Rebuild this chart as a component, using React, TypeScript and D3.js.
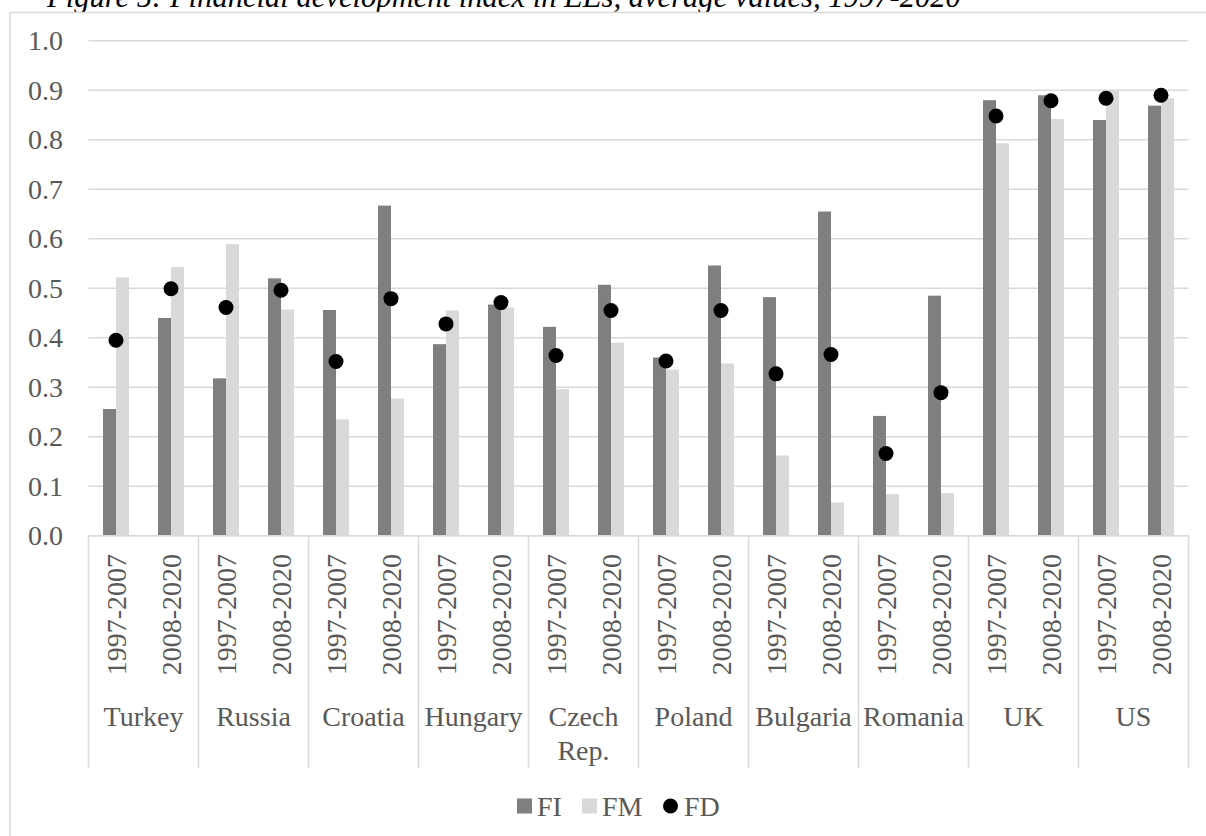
import React from "react";
import * as d3 from "d3";

const countries = ["Turkey", "Russia", "Croatia", "Hungary", "Czech Rep.", "Poland", "Bulgaria", "Romania", "UK", "US"];
const periods = ["1997-2007", "2008-2020"];
const FI = [0.256, 0.44, 0.318, 0.52, 0.456, 0.667, 0.387, 0.467, 0.422, 0.507, 0.36, 0.546, 0.482, 0.655, 0.242, 0.485, 0.88, 0.89, 0.84, 0.869];
const FM = [0.522, 0.543, 0.589, 0.457, 0.235, 0.277, 0.455, 0.461, 0.296, 0.39, 0.336, 0.348, 0.162, 0.067, 0.084, 0.086, 0.793, 0.842, 0.901, 0.884];
const FD = [0.395, 0.499, 0.461, 0.496, 0.352, 0.479, 0.428, 0.471, 0.364, 0.455, 0.353, 0.455, 0.327, 0.366, 0.166, 0.289, 0.848, 0.879, 0.884, 0.89];
const yTicks = [0, 0.1, 0.2, 0.3, 0.4, 0.5, 0.6, 0.7, 0.8, 0.9, 1.0];
const title = "Figure 5: Financial development index in EEs, average values, 1997-2020";
const legendItems = ["FI", "FM", "FD"];

const FONT = "'Liberation Serif', 'Times New Roman', serif";
const C_FI = "#7f7f7f";
const C_FM = "#d9d9d9";
const C_GRID = "#d9d9d9";
const C_TEXT = "#595959";

export default function App() {
  const W = 1206, H = 836;
  const left = 88.5, right = 1188.5, top = 40.8, bottom = 535.7;
  const fs = 28;

  const x0 = d3.scaleBand<string>().domain(countries).range([left, right]).padding(0);
  const x1 = d3.scaleBand<string>().domain(periods).range([0, x0.bandwidth()]).padding(0);
  const y = d3.scaleLinear().domain([0, 1]).range([bottom, top]);
  const fmt = d3.format(".1f");
  const barW = 13;

  const rows = countries.flatMap((c, ci) =>
    periods.map((p, pi) => {
      const i = ci * periods.length + pi;
      return { c, p, fi: FI[i], fm: FM[i], fd: FD[i], cx: (x0(c) as number) + (x1(p) as number) + x1.bandwidth() / 2 };
    })
  );

  const sepBottom = 768;
  const legendY = 806;

  return (
    <svg width={W} height={H} style={{ position: "absolute", left: 0, top: 0, background: "#fff" }} fontFamily={FONT}>
      <rect x={0} y={0} width={W} height={H} fill="#fff" />
      <text x={47} y={7} fontSize={30.6} fontStyle="italic" fill="#000">{title}</text>
      <rect x={10} y={12.5} width={W + 20} height={H + 20} fill="#fff" stroke={C_GRID} strokeWidth={1.5} />

      {yTicks.map((t) => (
        <g key={t}>
          <line x1={left} x2={right} y1={y(t)} y2={y(t)} stroke={C_GRID} strokeWidth={1.5} />
          <text x={63} y={y(t)} textAnchor="end" dominantBaseline="central" fontSize={fs} fill={C_TEXT}>{fmt(t)}</text>
        </g>
      ))}

      {rows.map((r, i) => (
        <g key={"b" + i}>
          <rect x={r.cx - barW} y={y(r.fi)} width={barW} height={bottom - y(r.fi)} fill={C_FI} />
          <rect x={r.cx} y={y(r.fm)} width={barW} height={bottom - y(r.fm)} fill={C_FM} />
        </g>
      ))}

      <line x1={left} x2={right} y1={bottom} y2={bottom} stroke={C_GRID} strokeWidth={1.5} />
      {[...countries.map((c) => x0(c) as number), right].map((sx, i) => (
        <line key={"s" + i} x1={sx} x2={sx} y1={bottom} y2={sepBottom} stroke={C_GRID} strokeWidth={1.5} />
      ))}

      {rows.map((r, i) => (
        <circle key={"d" + i} cx={r.cx} cy={y(r.fd)} r={7.5} fill="#000" />
      ))}

      {rows.map((r, i) => (
        <text key={"p" + i} transform={`translate(${r.cx},${554}) rotate(-90)`} textAnchor="end" dominantBaseline="central" fontSize={fs} fill={C_TEXT}>{r.p}</text>
      ))}

      {countries.map((c) => {
        const lines = c.includes(" ") ? c.split(" ") : [c];
        const cx = (x0(c) as number) + x0.bandwidth() / 2;
        return (
          <text key={"c" + c} x={cx} y={716} textAnchor="middle" fontSize={fs} fill={C_TEXT} dominantBaseline="central">
            {lines.map((l, li) => (
              <tspan key={li} x={cx} dy={li === 0 ? 0 : 34}>{l}</tspan>
            ))}
          </text>
        );
      })}

      <g>
        <rect x={517} y={legendY - 7.5} width={15} height={15} fill={C_FI} />
        <text x={537} y={legendY} dominantBaseline="central" fontSize={fs} fill={C_TEXT}>{legendItems[0]}</text>
        <rect x={582} y={legendY - 7.5} width={15} height={15} fill={C_FM} />
        <text x={602} y={legendY} dominantBaseline="central" fontSize={fs} fill={C_TEXT}>{legendItems[1]}</text>
        <circle cx={670.5} cy={legendY} r={7.5} fill="#000" />
        <text x={684} y={legendY} dominantBaseline="central" fontSize={fs} fill={C_TEXT}>{legendItems[2]}</text>
      </g>
    </svg>
  );
}
